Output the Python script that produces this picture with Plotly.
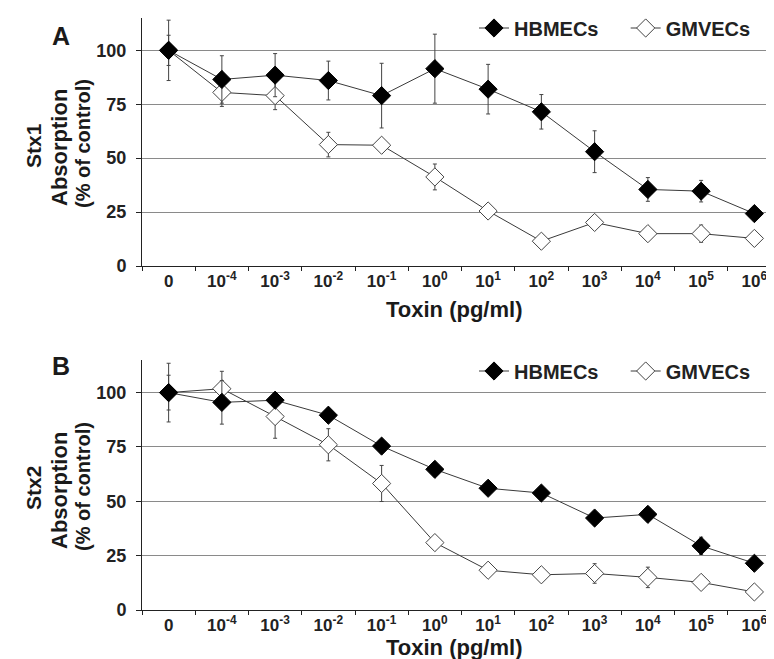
import plotly.graph_objects as go

categories = ["0", "1e-4", "1e-3", "1e-2", "1e-1", "1e0", "1e1", "1e2", "1e3", "1e4", "1e5", "1e6"]
tick_labels = ["0", "10<sup>-4</sup>", "10<sup>-3</sup>", "10<sup>-2</sup>", "10<sup>-1</sup>",
               "10<sup>0</sup>", "10<sup>1</sup>", "10<sup>2</sup>", "10<sup>3</sup>",
               "10<sup>4</sup>", "10<sup>5</sup>", "10<sup>6</sup>"]

stx1_hbmec = [100, 86.5, 88.5, 86, 79, 91.5, 82, 71.5, 53, 35.5, 34.7, 24.3]
stx1_hbmec_err = [7, 11, 10, 9, 15, 16, 11.5, 8, 9.7, 5.5, 5, 0.8]
stx1_gmvec = [100, 80.5, 79, 56.3, 56, 41.3, 25.5, 11.5, 20.2, 15, 15, 12.8]
stx1_gmvec_err = [14, 6.5, 6.5, 5.7, 1, 6, 1.5, 1, 1.5, 1, 4, 1]

stx2_hbmec = [100, 95.5, 96.5, 89.6, 75.4, 64.7, 56, 53.8, 42.3, 44, 29.5, 21.5]
stx2_hbmec_err = [8, 10, 1.5, 1.5, 1.5, 1.5, 3, 1.5, 1.5, 1.5, 4, 1]
stx2_gmvec = [100, 101.8, 89, 76, 58.2, 31, 18.3, 16.2, 16.8, 15, 12.7, 8.3]
stx2_gmvec_err = [13.5, 8, 10, 7.4, 8.3, 1.5, 1, 1, 4.5, 4.7, 1, 1]

W, H = 774, 659
FONT = "Liberation Sans, Arial, sans-serif"
LINE_C = "#3a3a3a"

fig = go.Figure()

def add_pair(hb, hb_err, gm, gm_err, xa, ya, leg_hb, leg_gm):
    fig.add_trace(go.Scatter(
        x=categories, y=gm, name="GMVECs", mode="lines+markers",
        xaxis=xa, yaxis=ya, legend=leg_gm,
        line=dict(color=LINE_C, width=1),
        marker=dict(symbol="diamond", size=14, color="white", line=dict(color="#444", width=1)),
        error_y=dict(type="data", array=gm_err, visible=True, color="#444", thickness=1, width=2),
    ))
    fig.add_trace(go.Scatter(
        x=categories, y=hb, name="HBMECs", mode="lines+markers",
        xaxis=xa, yaxis=ya, legend=leg_hb,
        line=dict(color=LINE_C, width=1),
        marker=dict(symbol="diamond", size=14, color="black", line=dict(color="black", width=1)),
        error_y=dict(type="data", array=hb_err, visible=True, color="#444", thickness=1, width=2),
    ))

add_pair(stx1_hbmec, stx1_hbmec_err, stx1_gmvec, stx1_gmvec_err, "x", "y", "legend", "legend2")
add_pair(stx2_hbmec, stx2_hbmec_err, stx2_gmvec, stx2_gmvec_err, "x2", "y2", "legend3", "legend4")

def py(p):
    return 1 - p / H

xdom = [134 / W, 773 / W]
ydomA = [py(258), py(10)]
ydomB = [py(602), py(352)]

xax = dict(
    type="category", categoryorder="array", categoryarray=categories,
    range=[-0.5, 11.5], tickson="boundaries", ticks="outside", ticklen=4,
    tickcolor="#222", showline=True, linecolor="#222", linewidth=1,
    tickvals=categories, ticktext=tick_labels, showgrid=False,
    tickfont=dict(family=FONT, size=17, color="#222", weight="bold"),
    domain=xdom, automargin=False, fixedrange=True,
)
yax = dict(
    range=[0, 115], tickvals=[0, 25, 50, 75, 100], ticks="outside", ticklen=5,
    tickcolor="#222", showline=True, linecolor="#222", linewidth=1,
    showgrid=True, gridcolor="#8a8a8a", gridwidth=1, zeroline=False,
    tickfont=dict(family=FONT, size=18, color="#222", weight="bold"),
    automargin=False, ticklabelstandoff=6,
)

leg = dict(orientation="h", yanchor="middle",
           font=dict(family=FONT, size=20, color="#222", weight="bold"),
           bgcolor="rgba(0,0,0,0)", itemwidth=30)
leg_hb = dict(leg, xanchor="left", x=466 / W)
leg_gm = dict(leg, xanchor="right", x=0.966)

fig.update_layout(
    width=W, height=H, margin=dict(l=0, r=0, t=0, b=0),
    paper_bgcolor="white", plot_bgcolor="white", showlegend=True,
    xaxis=dict(xax, anchor="y"),
    yaxis=dict(yax, domain=ydomA, anchor="x"),
    xaxis2=dict(xax, anchor="y2"),
    yaxis2=dict(yax, domain=ydomB, anchor="x2"),
    legend=dict(leg_hb, y=py(20)),
    legend2=dict(leg_gm, y=py(20)),
    legend3=dict(leg_hb, y=py(363)),
    legend4=dict(leg_gm, y=py(363)),
    font=dict(family=FONT, color="#222"),
)

def ann(text, x, y, size, angle=0):
    fig.add_annotation(text=text, x=x / W, y=py(y), xref="paper", yref="paper",
                       showarrow=False, textangle=angle, xanchor="center", yanchor="middle",
                       font=dict(family=FONT, size=size, color="#1a1a1a", weight="bold"))

ann("A", 53, 28, 25)
ann("B", 53, 358, 25)
for top, stx in [(0, "Stx1"), (343, "Stx2")]:
    ann(stx, 25, 137 + top, 21, -90)
    ann("Absorption", 51, 140 + top, 22, -90)
    ann("(% of control)", 75, 136 + top, 20, -90)

ann("Toxin (pg/ml)", 446, 302, 22)
ann("Toxin (pg/ml)", 446, 639, 22)

fig.write_html("out.html")
